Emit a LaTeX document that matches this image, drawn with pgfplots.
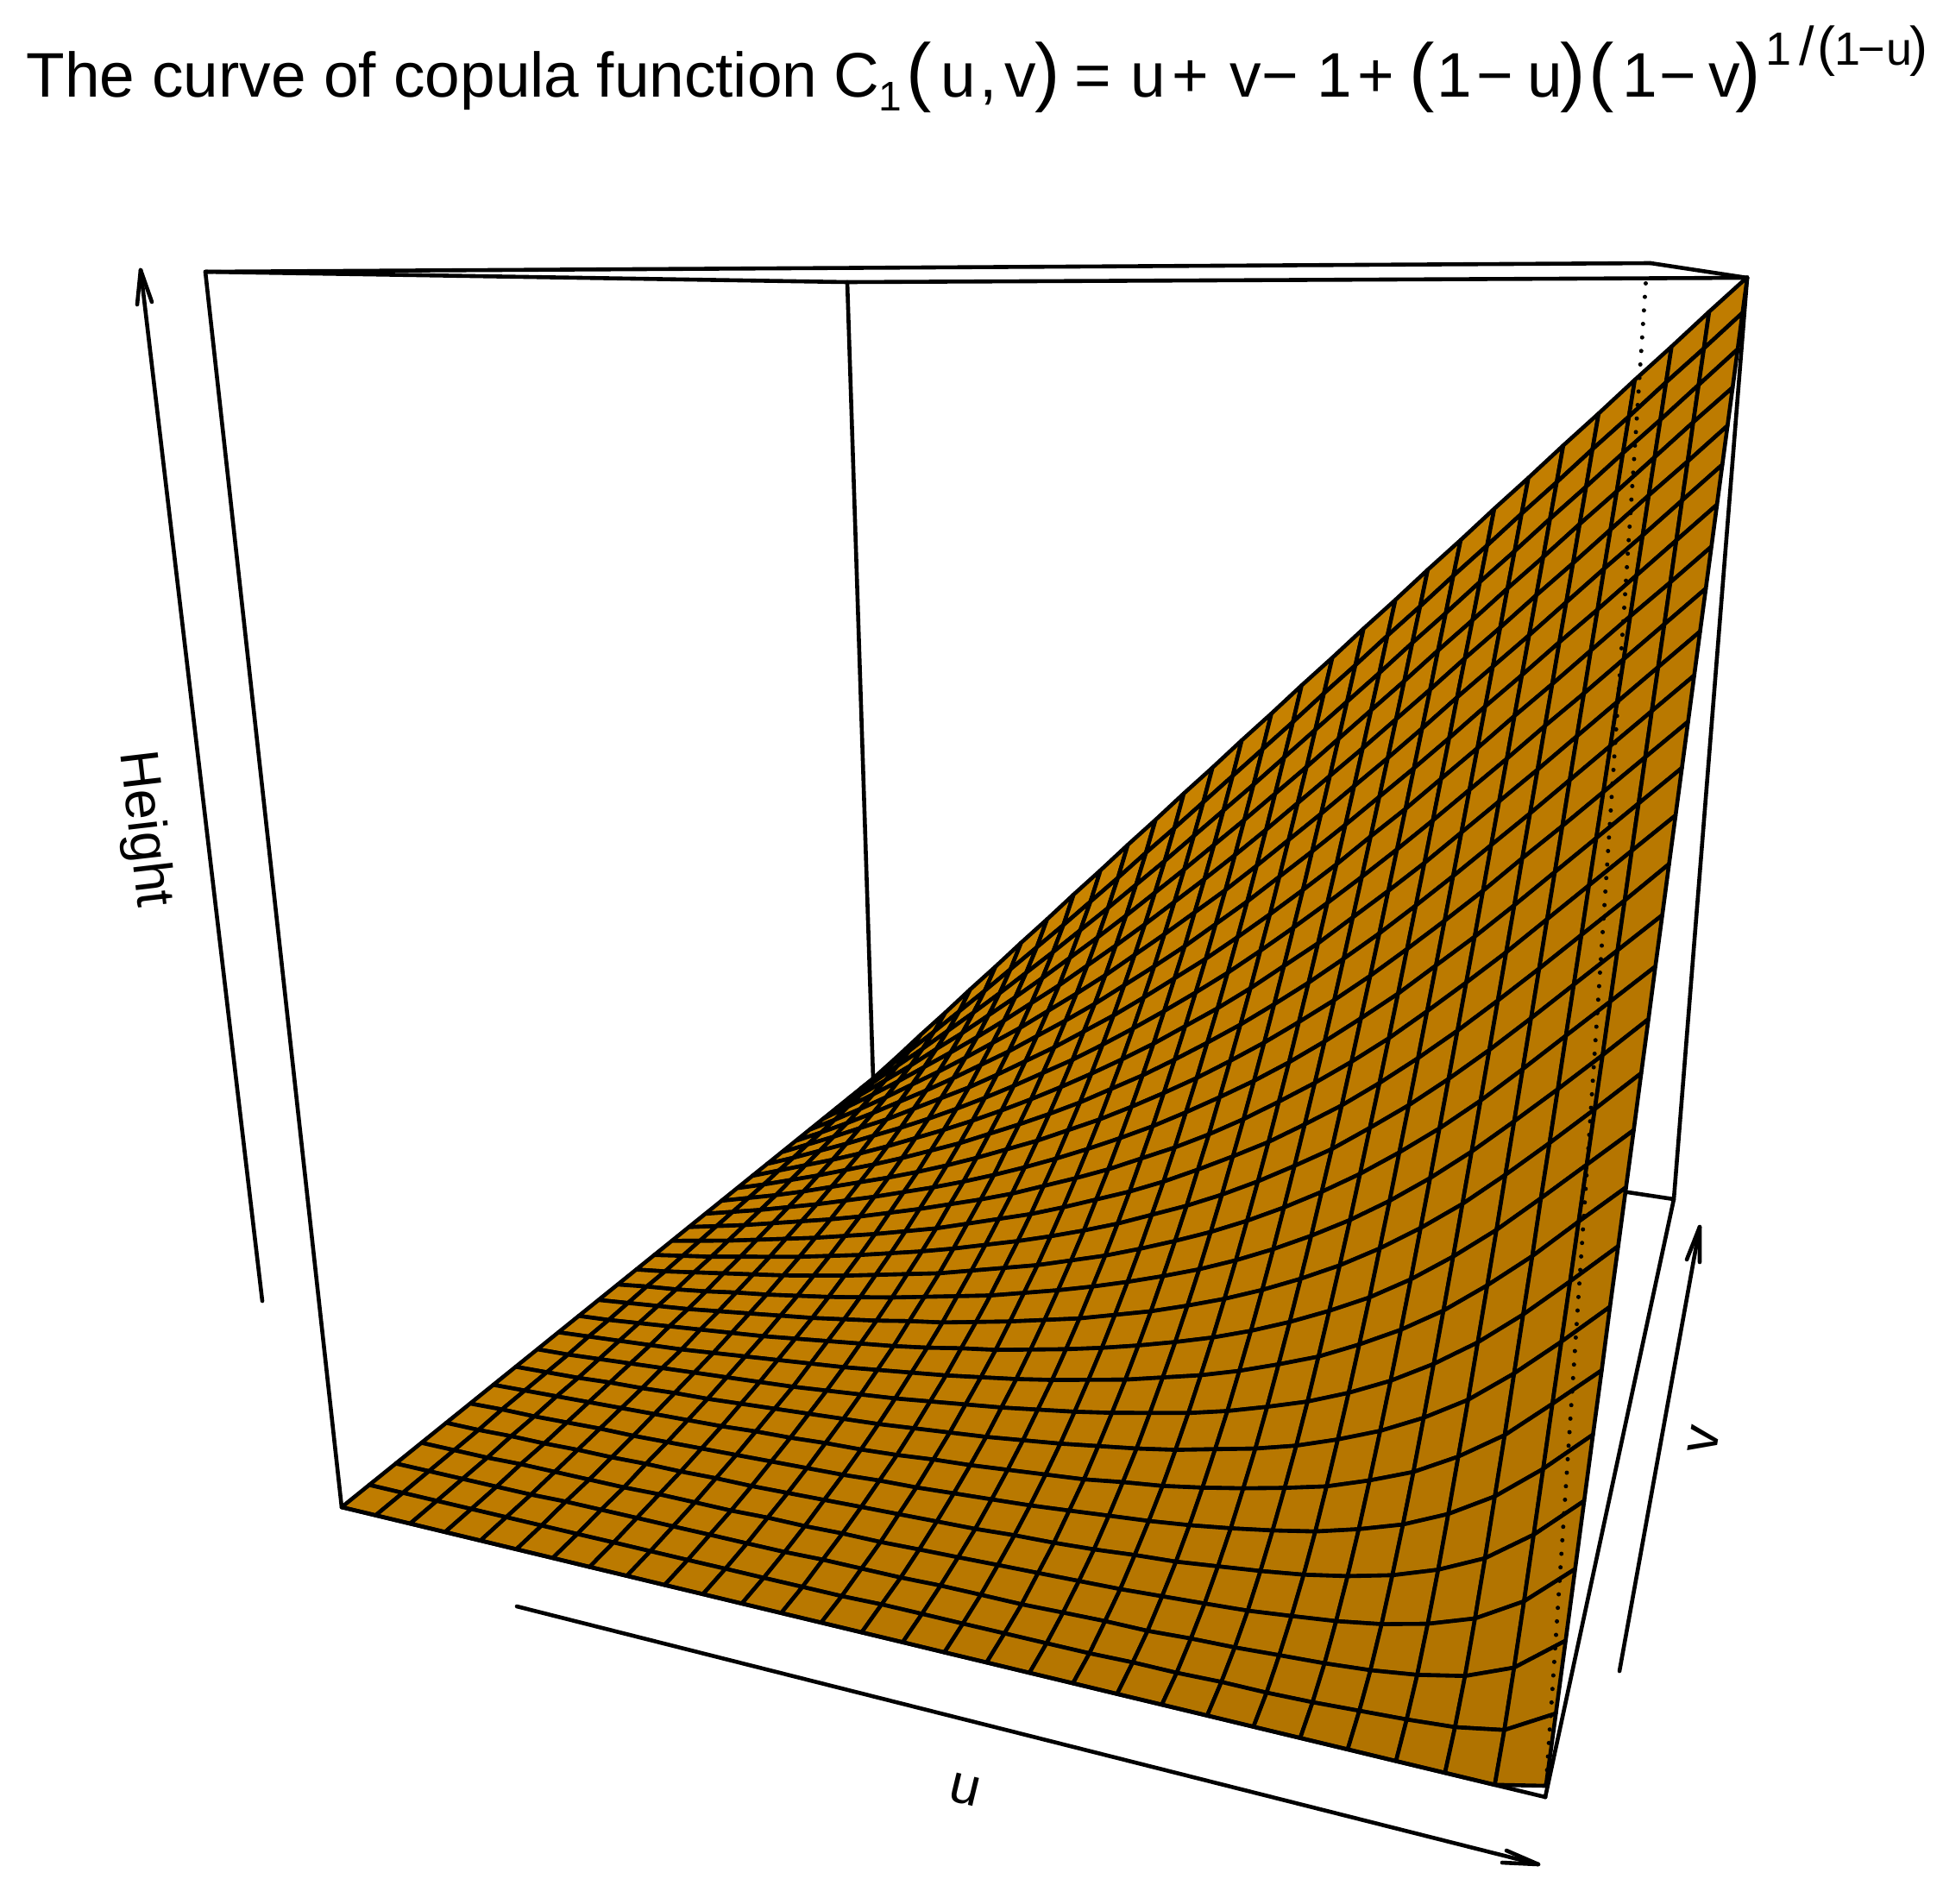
\documentclass[border=0pt]{standalone}
\usepackage{pgfplots}
\pgfplotsset{compat=1.18}
\usepackage{fontspec}
\setmainfont{Liberation Sans}
\def\rr{floor((\coordindex+0.5)/30)}
\def\uu{((\coordindex-30*\rr)/29)}
\def\vv{(1-\rr/29)}
\def\zz{(\thisrow{z}/1000)}
\def\ww{(1-0.185*\uu+0.53*\vv-0.15*\zz)}
\newcommand\T[3][36.5]{\node[anchor=base west,inner sep=0pt,font=\fontsize{#1pt}{#1pt}\selectfont] at (axis cs:#2,112) {#3};}
\newcommand\TT[3][36.5]{\node[anchor=base west,inner sep=0pt,font=\fontsize{#1pt}{#1pt}\selectfont] at (axis cs:#2,75) {#3};}
\begin{document}
\begin{tikzpicture}
\path[use as bounding box] (0,0) rectangle (1126pt,1103pt);
\begin{axis}[
  at={(0,0)},anchor=south west,
  scale only axis, width=1126pt, height=1103pt,
  view={0}{90}, hide axis,
  xmin=0, xmax=2252, ymin=0, ymax=2206, zmin=-1, zmax=1,
  y dir=reverse,
  colormap={cop}{rgb255=(175,114,0) rgb255=(191,124,0) rgb255=(206,135,0)},
  point meta min=-1, point meta max=1,
  every axis plot/.append style={line cap=round,line join=round},
  clip=false,
]
% box edges behind the surface
\addplot3[black,line width=2.3pt] coordinates {(1012,1250,0) (982,327,0)};
\addplot3[black,line width=2.3pt] coordinates {(238,315,0) (982,327,0) (2025,322,0)};
\addplot3[black,line width=2.3pt] coordinates {(1012,1250,0) (1940,1390,0) (2025,322,0)};
\addplot3[black,line width=2.3pt] coordinates {(1913,305,0) (2025,322,0)};
% the surface: heights in thousandths, rows from v=1 down to v=0, u from 0 to 1
\addplot3[surf,shader=faceted,faceted color=black,line width=2.3pt,mesh/rows=30,z buffer=none,point meta=explicit]
 table[row sep=\\,
  x expr={(396+1063.7*\uu+1152.4*\vv-192*\zz)/\ww},
  y expr={(1747-49.4*\uu+165.5*\vv-1479.2*\zz)/\ww},
  z expr=0,
  meta expr={\vv-\uu}]{z\\
0\\34\\69\\103\\138\\172\\207\\241\\276\\310\\345\\379\\414\\448\\483\\517\\552\\586\\621\\655\\690\\724\\759\\793\\828\\862\\897\\931\\966\\1000\\
0\\30\\60\\90\\121\\152\\184\\216\\248\\281\\314\\348\\381\\415\\449\\483\\517\\552\\586\\621\\655\\690\\724\\759\\793\\828\\862\\897\\931\\966\\
0\\26\\53\\80\\108\\136\\165\\195\\225\\256\\287\\319\\351\\384\\417\\450\\484\\518\\552\\586\\621\\655\\690\\724\\759\\793\\828\\862\\897\\932\\
0\\23\\47\\71\\97\\122\\149\\176\\204\\233\\262\\292\\323\\354\\386\\418\\451\\484\\518\\552\\586\\621\\655\\690\\724\\759\\793\\828\\863\\897\\
0\\21\\42\\64\\87\\110\\134\\159\\185\\211\\239\\267\\296\\326\\356\\387\\419\\452\\485\\518\\552\\586\\621\\655\\690\\724\\759\\794\\828\\863\\
0\\18\\37\\57\\78\\99\\121\\144\\167\\192\\217\\243\\271\\299\\328\\357\\388\\420\\452\\485\\518\\552\\587\\621\\655\\690\\725\\759\\794\\829\\
0\\16\\33\\51\\70\\89\\109\\130\\151\\174\\197\\221\\247\\273\\300\\329\\358\\389\\420\\452\\485\\518\\552\\587\\621\\656\\690\\725\\760\\795\\
0\\15\\30\\46\\62\\80\\98\\116\\136\\157\\178\\201\\224\\249\\275\\301\\329\\358\\388\\419\\452\\484\\518\\552\\587\\621\\656\\691\\725\\760\\
0\\13\\27\\41\\56\\71\\87\\104\\122\\141\\161\\181\\203\\226\\250\\275\\301\\329\\358\\388\\419\\451\\484\\518\\552\\587\\621\\656\\691\\726\\
0\\12\\24\\36\\49\\63\\78\\93\\109\\126\\144\\163\\183\\204\\226\\250\\274\\300\\328\\356\\387\\418\\450\\484\\518\\552\\587\\622\\657\\692\\
0\\10\\21\\32\\44\\56\\69\\83\\97\\113\\129\\146\\164\\184\\204\\226\\249\\273\\299\\326\\355\\385\\417\\450\\484\\518\\553\\588\\623\\658\\
0\\9\\18\\28\\39\\50\\61\\73\\86\\100\\115\\130\\147\\164\\183\\203\\224\\247\\271\\297\\324\\353\\384\\416\\449\\484\\518\\553\\588\\623\\
0\\8\\16\\25\\34\\44\\54\\65\\76\\88\\101\\115\\130\\146\\163\\181\\201\\222\\244\\268\\294\\322\\351\\383\\415\\449\\484\\519\\554\\589\\
0\\7\\14\\22\\30\\38\\47\\57\\67\\78\\89\\101\\115\\129\\144\\161\\178\\197\\218\\241\\265\\291\\319\\350\\382\\415\\450\\485\\520\\555\\
0\\6\\12\\19\\26\\33\\41\\49\\58\\67\\78\\89\\100\\113\\127\\141\\157\\175\\194\\214\\237\\261\\288\\317\\348\\381\\415\\450\\485\\521\\
0\\5\\10\\16\\22\\28\\35\\42\\50\\58\\67\\77\\87\\98\\110\\123\\138\\153\\170\\189\\210\\232\\258\\285\\315\\347\\381\\416\\451\\486\\
0\\4\\9\\14\\19\\24\\30\\36\\43\\50\\57\\66\\75\\84\\95\\106\\119\\133\\148\\165\\184\\205\\228\\254\\282\\313\\347\\382\\417\\452\\
0\\4\\7\\11\\16\\20\\25\\30\\36\\42\\49\\56\\63\\72\\81\\91\\102\\114\\127\\142\\159\\178\\199\\223\\250\\280\\313\\347\\382\\418\\
0\\3\\6\\9\\13\\17\\21\\25\\30\\35\\41\\46\\53\\60\\68\\76\\86\\96\\108\\121\\136\\153\\172\\194\\219\\247\\279\\313\\348\\384\\
0\\2\\5\\8\\11\\14\\17\\21\\25\\29\\33\\38\\44\\49\\56\\63\\71\\80\\90\\101\\114\\129\\146\\165\\188\\215\\245\\279\\314\\349\\
0\\2\\4\\6\\8\\11\\14\\17\\20\\23\\27\\31\\35\\40\\45\\51\\58\\65\\74\\83\\94\\107\\121\\139\\159\\183\\212\\244\\280\\315\\
0\\1\\3\\5\\7\\9\\11\\13\\15\\18\\21\\24\\28\\32\\36\\41\\46\\52\\59\\66\\75\\86\\98\\113\\131\\153\\179\\210\\245\\281\\
0\\1\\2\\4\\5\\7\\8\\10\\12\\14\\16\\18\\21\\24\\27\\31\\35\\40\\45\\51\\59\\67\\77\\90\\105\\124\\147\\177\\211\\247\\
0\\1\\2\\3\\4\\5\\6\\7\\9\\10\\12\\13\\15\\18\\20\\23\\26\\29\\34\\38\\44\\51\\59\\68\\81\\96\\117\\143\\177\\212\\
0\\1\\1\\2\\3\\3\\4\\5\\6\\7\\8\\9\\11\\12\\14\\16\\18\\21\\24\\27\\31\\36\\42\\49\\59\\71\\88\\111\\142\\178\\
0\\0\\1\\1\\2\\2\\3\\3\\4\\4\\5\\6\\7\\8\\9\\10\\12\\13\\15\\18\\20\\24\\28\\33\\40\\49\\62\\80\\108\\144\\
0\\0\\0\\1\\1\\1\\1\\2\\2\\2\\3\\3\\4\\4\\5\\6\\7\\8\\9\\10\\12\\14\\16\\20\\24\\30\\39\\52\\75\\110\\
0\\0\\0\\0\\0\\1\\1\\1\\1\\1\\1\\1\\2\\2\\2\\3\\3\\3\\4\\5\\5\\7\\8\\10\\12\\15\\20\\28\\44\\75\\
0\\0\\0\\0\\0\\0\\0\\0\\0\\0\\0\\0\\0\\0\\1\\1\\1\\1\\1\\1\\2\\2\\3\\3\\4\\6\\8\\11\\18\\41\\
0\\0\\0\\0\\0\\0\\0\\0\\0\\0\\0\\0\\0\\0\\0\\0\\0\\0\\0\\0\\0\\0\\0\\0\\0\\0\\0\\0\\0\\9\\
};
% box edges in front of the surface
\addplot3[black,line width=2.3pt] coordinates {(396,1747,0) (238,315,0) (1913,305,0)};
\addplot3[black,line width=2.3pt] coordinates {(396,1747,0) (1791,2083,0) (1940,1390,0)};
\addplot3[black,line width=2.5pt,dash pattern=on 0pt off 7.85pt] coordinates {(1791,2083,0) (1908,320,0)};
% axis arrows
\addplot3[black,line width=2.3pt] coordinates {(599,1862,0) (1783,2161,0)};
\addplot3[black,line width=2.3pt] coordinates {(1746,2145,0) (1783,2161,0) (1741,2159,0)};
\addplot3[black,line width=2.3pt] coordinates {(1877,1937,0) (1970,1422,0)};
\addplot3[black,line width=2.3pt] coordinates {(1955,1460,0) (1970,1422,0) (1970,1463,0)};
\addplot3[black,line width=2.3pt] coordinates {(304,1508,0) (163,313,0)};
\addplot3[black,line width=2.3pt] coordinates {(159,353,0) (163,313,0) (176,350,0)};
% axis names
\node[rotate=-83.3,font=\fontsize{31.5pt}{31.5pt}\selectfont,inner sep=0pt] at (axis cs:166,961) {Height};
\node[rotate=-13.6,font=\fontsize{31.5pt}{31.5pt}\selectfont,inner sep=0pt] at (axis cs:1118,2075) {u};
\node[rotate=80,font=\fontsize{31.5pt}{31.5pt}\selectfont,inner sep=0pt] at (axis cs:1975,1669) {v};
% title
\T{30}{The curve of copula function}
\T{966}{C}
\node[anchor=base west,inner sep=0pt,font=\fontsize{24pt}{24pt}\selectfont] at (axis cs:1018,128) {1};
\T[44]{1050}{(}
\T{1090}{u}
\T{1135}{,}
\T{1164}{v}
\T[44]{1199}{)}
\T{1245}{=}
\T{1310}{u}
\T{1358}{+}
\T{1425}{v}
\T{1462}{−}
\T{1526}{1}
\T{1573}{+}
\T[44]{1633}{(}
\T{1665}{1}
\T{1711}{−}
\T{1770}{u}
\T[44]{1808}{)}
\T[44]{1841}{(}
\T{1880}{1}
\T{1923}{−}
\T{1980}{v}
\T[44]{2011}{)}
\TT[27]{2046}{1}
\TT[31.5]{2085}{/}
\TT[31.5]{2106}{(}
\TT[27]{2126}{1}
\TT[27]{2153}{−}
\TT[27]{2186}{u}
\TT[31.5]{2213}{)}
\end{axis}
\end{tikzpicture}
\end{document}
